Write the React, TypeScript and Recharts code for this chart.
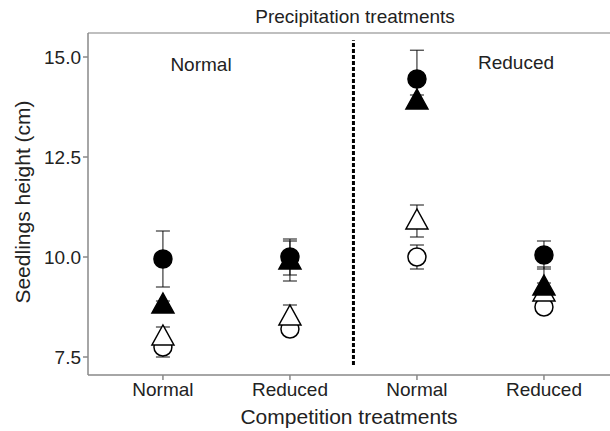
import { ScatterChart, Scatter, XAxis, YAxis, ErrorBar, ReferenceLine } from 'recharts'

const categories = ['Normal', 'Reduced', 'Normal', 'Reduced']
const xPositions = [1, 2, 3, 4]
const yTicks = [7.5, 10, 12.5, 15]

// series: filled/open circles and triangles, mean +- error
const filledCircleMean = [9.95, 10.0, 14.45, 10.05]
const filledCircleErr = [0.7, 0.45, 0.72, 0.35]
const filledTriangleMean = [8.8, 9.9, 13.9, 9.25]
const filledTriangleErr = [0.1, 0.5, 0.15, 0.5]
const openTriangleMean = [8.0, 8.5, 10.9, 9.1]
const openTriangleErr = [0.25, 0.3, 0.4, 0.25]
const openCircleMean = [7.75, 8.2, 10.0, 8.75]
const openCircleErr = [0.25, 0.15, 0.3, 0.15]

const toRows = (means: number[], errs: number[]) =>
  means.map((y, i) => ({ x: xPositions[i], y, err: errs[i] }))

const makeShape = (kind: 'circle' | 'triangle', filled: boolean) => (props: any) => {
  const { cx, cy } = props
  const fill = filled ? '#000' : '#fff'
  if (kind === 'circle') {
    return <circle cx={cx} cy={cy} r={9} fill={fill} stroke="#000" strokeWidth={1.5} />
  }
  const pts = `${cx},${cy - 12} ${cx - 11},${cy + 8} ${cx + 11},${cy + 8}`
  return <polygon points={pts} fill={fill} stroke="#000" strokeWidth={1.5} strokeLinejoin="miter" />
}

const FONT = '"Liberation Sans", Arial, sans-serif'

export default function App() {
  return (
    <div style={{ position: 'relative', width: 610, height: 431, background: '#fff', fontFamily: FONT, color: '#222' }}>
      <style>{`body{margin:0}`}</style>
      <ScatterChart width={610} height={431} margin={{ top: 33, right: 0, bottom: 0, left: 0 }}>
        <XAxis
          type="number"
          dataKey="x"
          domain={[0.41, 4.52]}
          ticks={xPositions}
          allowDataOverflow
          tickFormatter={(v) => categories[v - 1] ?? ''}
          tick={{ fontSize: 19, fill: '#222', fontFamily: FONT }}
          tickSize={5}
          tickMargin={3}
          stroke="#888"
          strokeWidth={1.5}
          height={56}
        />
        <YAxis
          type="number"
          dataKey="y"
          domain={[7.05, 15.6]}
          ticks={yTicks}
          allowDataOverflow
          tickFormatter={(v) => v.toFixed(1)}
          tick={{ fontSize: 19, fill: '#222', fontFamily: FONT }}
          tickSize={5}
          tickMargin={2}
          stroke="#888"
          strokeWidth={1.5}
          width={88}
        />
        <ReferenceLine y={15.6} stroke="#aaa" strokeWidth={1.5} />
        <ReferenceLine
          segment={[{ x: 2.5, y: 7.3 }, { x: 2.5, y: 15.42 }]}
          stroke="#000"
          strokeWidth={3}
          strokeDasharray="4 2"
        />
        <Scatter data={toRows(openCircleMean, openCircleErr)} shape={makeShape('circle', false)} isAnimationActive={false}>
          <ErrorBar dataKey="err" direction="y" width={7} stroke="#111" strokeWidth={1} />
        </Scatter>
        <Scatter data={toRows(openTriangleMean, openTriangleErr)} shape={makeShape('triangle', false)} isAnimationActive={false}>
          <ErrorBar dataKey="err" direction="y" width={7} stroke="#111" strokeWidth={1} />
        </Scatter>
        <Scatter data={toRows(filledCircleMean, filledCircleErr)} shape={makeShape('circle', true)} isAnimationActive={false}>
          <ErrorBar dataKey="err" direction="y" width={7} stroke="#111" strokeWidth={1} />
        </Scatter>
        <Scatter data={toRows(filledTriangleMean, filledTriangleErr)} shape={makeShape('triangle', true)} isAnimationActive={false}>
          <ErrorBar dataKey="err" direction="y" width={7} stroke="#111" strokeWidth={1} />
        </Scatter>
      </ScatterChart>

      <div style={{ position: 'absolute', left: 0, width: 710, top: 6, textAlign: 'center', fontSize: 19, lineHeight: '22px' }}>
        Precipitation treatments
      </div>
      <div style={{ position: 'absolute', left: 150, width: 102, top: 54, textAlign: 'center', fontSize: 19, lineHeight: '22px' }}>
        Normal
      </div>
      <div style={{ position: 'absolute', left: 466, width: 100, top: 52, textAlign: 'center', fontSize: 19, lineHeight: '22px' }}>
        Reduced
      </div>
      <div style={{ position: 'absolute', left: 88, width: 522, top: 405, textAlign: 'center', fontSize: 21, lineHeight: '24px' }}>
        Competition treatments
      </div>
      <div
        style={{
          position: 'absolute',
          left: 23 - 150,
          top: 202 - 12,
          width: 300,
          textAlign: 'center',
          fontSize: 21,
          lineHeight: '24px',
          transform: 'rotate(-90deg)',
        }}
      >
        Seedlings height (cm)
      </div>
    </div>
  )
}
